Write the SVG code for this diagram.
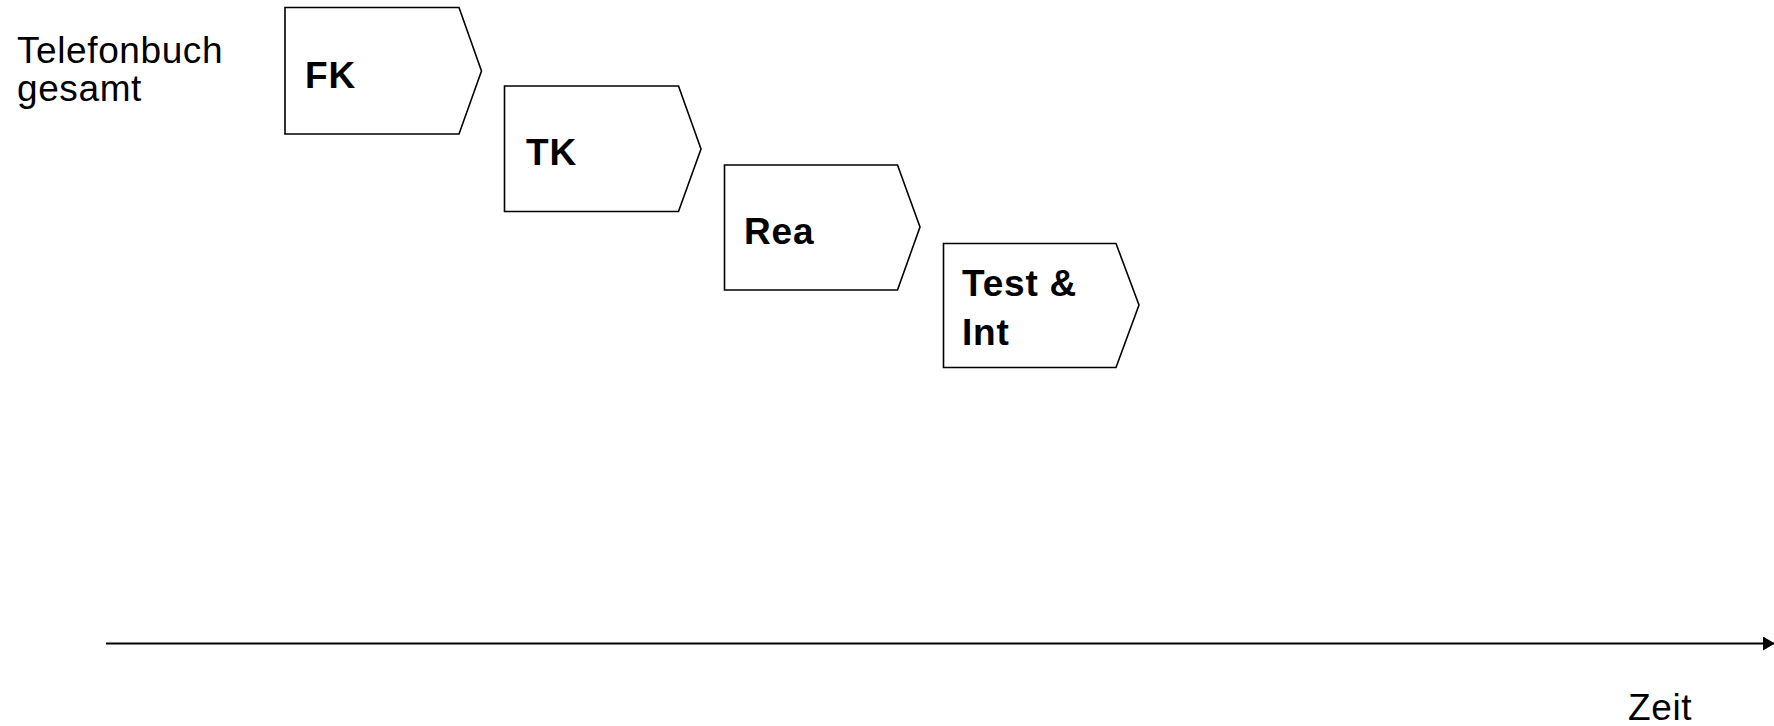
<svg xmlns="http://www.w3.org/2000/svg" width="1774" height="726" viewBox="0 0 1774 726">
<style>
.shape{fill:#fff;stroke:#000;stroke-width:1.6;stroke-linejoin:miter}
.lbl{font-family:"Liberation Sans",Arial,sans-serif;font-size:37px;font-weight:bold;fill:#000;letter-spacing:0.8px}
.txt{font-family:"Liberation Sans",Arial,sans-serif;font-size:37px;fill:#000;letter-spacing:0.6px}
</style>
<defs>
<marker id="arr" markerWidth="12" markerHeight="14" refX="11" refY="7" orient="auto" markerUnits="userSpaceOnUse">
<path d="M0,0 L12,7 L0,14 Z" fill="#000"/>
</marker>
</defs>
<text class="txt" x="17" y="63">Telefonbuch</text>
<text class="txt" x="17" y="101">gesamt</text>
<g id="fk">
<path class="shape" d="M285,7.5 H459 L481.5,71 L459,134 H285 Z"/>
<text class="lbl" x="305" y="87.5">FK</text>
</g>
<g id="tk">
<path class="shape" d="M504.5,86 H678.5 L701,149 L678.5,211.5 H504.5 Z"/>
<text class="lbl" x="526" y="165">TK</text>
</g>
<g id="rea">
<path class="shape" d="M724.5,165 H897.5 L920,227 L897.5,290 H724.5 Z"/>
<text class="lbl" x="744" y="243.5">Rea</text>
</g>
<g id="test">
<path class="shape" d="M943.5,243.5 H1116 L1139,305 L1116,367.5 H943.5 Z"/>
<text class="lbl" x="962" y="295.5">Test &amp;</text>
<text class="lbl" x="962" y="344.5">Int</text>
</g>
<g id="connectors">
<line x1="106" y1="643.5" x2="1774" y2="643.5" stroke="#000" stroke-width="2" marker-end="url(#arr)"/>
</g>
<text class="txt" x="1628" y="720">Zeit</text>
</svg>
